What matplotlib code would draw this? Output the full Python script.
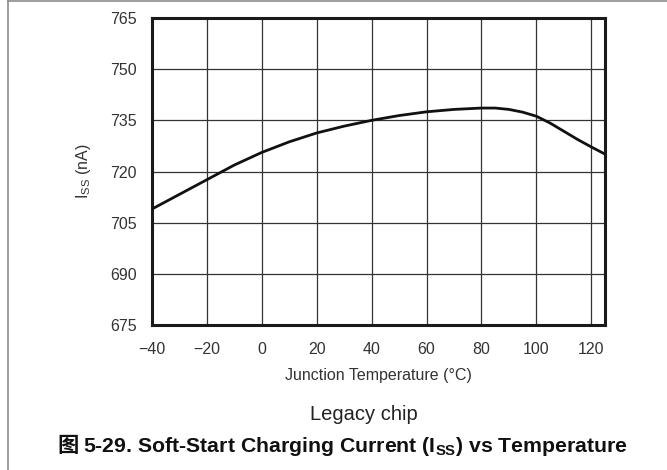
import matplotlib
matplotlib.use('Agg')
import matplotlib.pyplot as plt
from matplotlib.lines import Line2D

# curve
temp_c = [-40, -30, -20, -10, 0, 10, 20, 30, 40, 50, 60, 70, 80, 85, 90, 95, 100, 105, 110, 115, 120, 125]
iss_na = [709.0, 713.3, 717.6, 721.9, 725.6, 728.7, 731.3, 733.3, 735.0, 736.4, 737.5, 738.2, 738.6, 738.6, 738.2, 737.4, 736.2, 734.2, 731.8, 729.4, 727.2, 725.1]

x_ticks = [-40, -20, 0, 20, 40, 60, 80, 100, 120]
x_labels = ['\u221240', '\u221220', '0', '20', '40', '60', '80', '100', '120']
y_ticks = [675, 690, 705, 720, 735, 750, 765]

plt.rcParams['font.family'] = ['Liberation Sans', 'Noto Sans CJK SC']
plt.rcParams['mathtext.fontset'] = 'custom'
plt.rcParams['mathtext.rm'] = 'Liberation Sans'
plt.rcParams['mathtext.it'] = 'Liberation Sans'
plt.rcParams['mathtext.bf'] = 'Liberation Sans:bold'

W, H = 667, 470
fig = plt.figure(figsize=(W / 100, H / 100), dpi=100)
ax = fig.add_axes([152 / W, (H - 325) / H, 453 / W, 307 / H])

ax.plot(temp_c, iss_na, color='#111111', linewidth=2.0, zorder=3)

ax.set_xlim(-40, 125)
ax.set_ylim(675, 765)
ax.set_xticks(x_ticks)
ax.set_xticklabels(x_labels)
ax.set_yticks(y_ticks)
ax.grid(True, color='#333333', linewidth=0.9)
ax.tick_params(length=0, labelsize=11.5, labelcolor='#333333')
ax.tick_params(axis='x', pad=12)
ax.tick_params(axis='y', pad=11)
for spine in ax.spines.values():
    spine.set_linewidth(2.2)
    spine.set_color('#1a1a1a')

ax.set_xlabel('Junction Temperature (\u00b0C)', fontsize=11.5, color='#333333', labelpad=8)
ax.set_ylabel(r'I$_{\mathrm{SS}}$ (nA)', fontsize=11.5, color='#333333', labelpad=12)

fig.text(364 / W, 1 - 414 / H, 'Legacy chip', ha='center', va='center', fontsize=14.5, color='#222222')

# caption: CJK glyph as its own text, the rest with a mathtext subscript
cap_y = 1 - 446 / H
fig.text(57 / W, cap_y, '图', ha='left', va='center', fontsize=15.3, fontweight='bold',
         family=['Noto Sans CJK SC'], color='#111111')
fig.text(83 / W, cap_y, r'5-29. Soft-Start Charging Current (I$_{\mathbf{SS}}$) vs Temperature',
         ha='left', va='center', fontsize=15.3, fontweight='bold', color='#111111')

# page frame on the top and left edges
fig.add_artist(Line2D([8 / W, 8 / W], [0, 1], transform=fig.transFigure, color='#8c8c8c', linewidth=1.2))
fig.add_artist(Line2D([8 / W, 1], [1 - 0.8 / H, 1 - 0.8 / H], transform=fig.transFigure, color='#8c8c8c', linewidth=1.2))

fig.savefig('out.png', dpi=100)
